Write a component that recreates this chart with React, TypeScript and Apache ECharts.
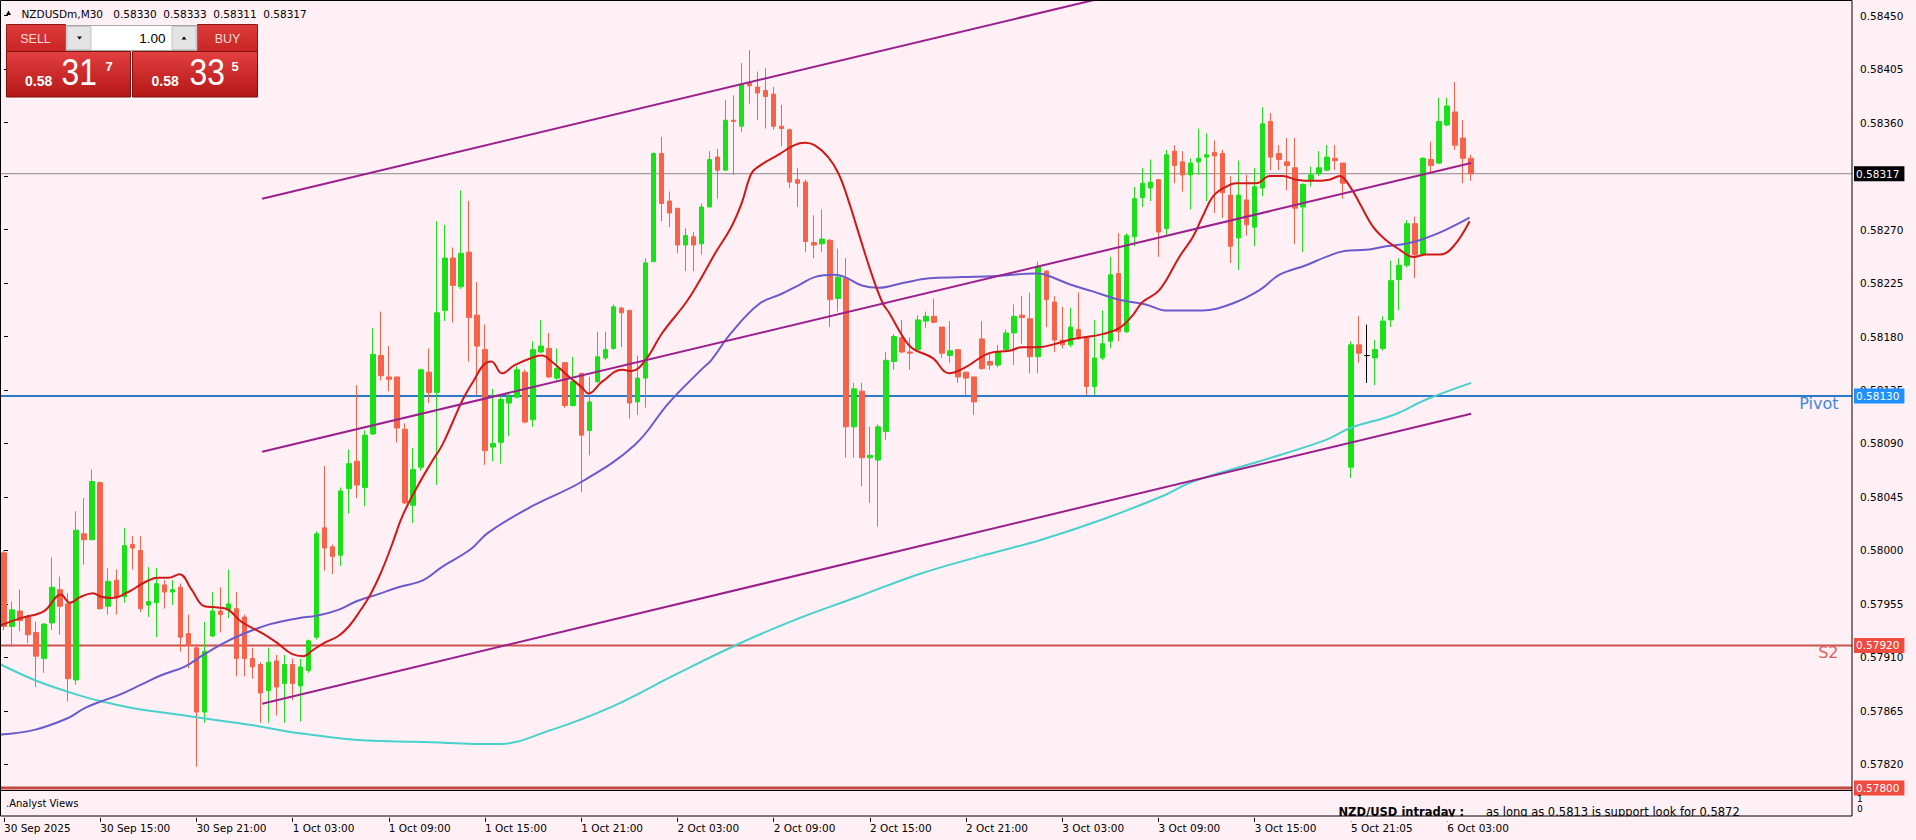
import React, { useEffect, useRef } from "react";
import * as echarts from "echarts";

const FONT = "'DejaVu Sans', sans-serif";
const PFONT = "'Liberation Sans', Arial, sans-serif";
const BG = "#fff0f5";
const BULL = "#19e019";
const BEAR = "#f5644a";
const SLOTS = 231;

const tickLabels = [
  "30 Sep 2025", "30 Sep 15:00", "30 Sep 21:00", "1 Oct 03:00", "1 Oct 09:00", "1 Oct 15:00",
  "1 Oct 21:00", "2 Oct 03:00", "2 Oct 09:00", "2 Oct 15:00", "2 Oct 21:00", "3 Oct 03:00",
  "3 Oct 09:00", "3 Oct 15:00", "5 Oct 21:05", "6 Oct 03:00",
];

const opens = [
  0.57998,0.57936,0.57949,0.57944,0.57931,0.57909,0.57939,0.57967,0.57955,0.57891,
  0.58014,0.58009,0.58057,0.57953,0.57975,0.57961,0.58005,0.58000,0.57954,0.57956,
  0.57971,0.57965,0.57969,0.57930,0.57918,0.57864,0.57928,0.57949,0.57950,0.57951,
  0.57944,0.57909,0.57904,0.57882,0.57907,0.57888,0.57904,0.57886,0.57899,0.57927,
  0.58019,0.58003,0.57996,0.58052,0.58075,0.58053,0.58098,0.58164,0.58146,0.58146,
  0.58102,0.58038,0.58070,0.58150,0.58133,0.58202,0.58246,0.58222,0.58251,0.58198,
  0.58169,0.58087,0.58091,0.58124,0.58129,0.58150,0.58110,0.58167,0.58170,0.58145,
  0.58158,0.58122,0.58149,0.58101,0.58142,0.58162,0.58170,0.58204,0.58202,0.58125,
  0.58145,0.58243,0.58334,0.58294,0.58288,0.58257,0.58264,0.58258,0.58289,0.58331,
  0.58320,0.58362,0.58357,0.58393,0.58390,0.58387,0.58384,0.58357,0.58354,0.58312,
  0.58310,0.58259,0.58258,0.58261,0.58212,0.58229,0.58104,0.58134,0.58078,0.58076,
  0.58100,0.58159,0.58179,0.58167,0.58169,0.58193,0.58197,0.58188,0.58164,0.58169,
  0.58150,0.58146,0.58178,0.58159,0.58156,0.58169,0.58183,0.58198,0.58195,0.58163,
  0.58235,0.58209,0.58177,0.58173,0.58186,0.58179,0.58138,0.58162,0.58176,0.58233,
  0.58184,0.58264,0.58297,0.58305,0.58312,0.58271,0.58336,0.58327,0.58316,0.58327,
  0.58331,0.58335,0.58334,0.58299,0.58263,0.58295,0.58272,0.58305,0.58361,0.58334,
  0.58327,0.58322,0.58289,0.58312,0.58317,0.58320,0.58330,0.58326,0.58070,0.58173,
  0.58164,0.58162,0.58170,0.58194,0.58228,0.58240,0.58275,0.58249,0.58329,0.58326,
  0.58358,0.58369,0.58347,0.58330,
];
const closes = [
  0.57936,0.57950,0.57941,0.57929,0.57911,0.57938,0.57969,0.57953,0.57892,0.58017,
  0.58009,0.58058,0.57951,0.57974,0.57960,0.58004,0.58002,0.57951,0.57957,0.57972,
  0.57965,0.57967,0.57927,0.57920,0.57864,0.57915,0.57949,0.57946,0.57955,0.57909,
  0.57909,0.57902,0.57880,0.57906,0.57885,0.57904,0.57888,0.57902,0.57924,0.58014,
  0.58002,0.57995,0.58050,0.58073,0.58055,0.58097,0.58165,0.58147,0.58144,0.58103,
  0.58040,0.58068,0.58152,0.58133,0.58200,0.58246,0.58223,0.58250,0.58196,0.58172,
  0.58084,0.58090,0.58127,0.58129,0.58152,0.58108,0.58169,0.58172,0.58146,0.58153,
  0.58122,0.58142,0.58097,0.58125,0.58163,0.58169,0.58205,0.58200,0.58124,0.58145,
  0.58242,0.58334,0.58292,0.58284,0.58257,0.58265,0.58257,0.58289,0.58329,0.58320,
  0.58362,0.58361,0.58392,0.58391,0.58385,0.58382,0.58357,0.58355,0.58310,0.58309,
  0.58260,0.58257,0.58262,0.58211,0.58230,0.58104,0.58136,0.58078,0.58080,0.58104,
  0.58160,0.58180,0.58167,0.58166,0.58194,0.58197,0.58192,0.58166,0.58168,0.58146,
  0.58145,0.58125,0.58153,0.58156,0.58167,0.58183,0.58197,0.58196,0.58163,0.58239,
  0.58211,0.58177,0.58173,0.58188,0.58180,0.58138,0.58162,0.58174,0.58232,0.58184,
  0.58265,0.58296,0.58309,0.58310,0.58268,0.58333,0.58324,0.58316,0.58326,0.58330,
  0.58333,0.58332,0.58301,0.58256,0.58299,0.58274,0.58306,0.58359,0.58331,0.58329,
  0.58324,0.58288,0.58308,0.58316,0.58322,0.58331,0.58328,0.58309,0.58173,0.58166,
  0.58164,0.58169,0.58193,0.58227,0.58240,0.58275,0.58249,0.58330,0.58324,0.58361,
  0.58374,0.58341,0.58330,0.58317,
];
const lows = [
  0.57933,0.57919,0.57932,0.57922,0.57885,0.57897,0.57933,0.57929,0.57873,0.57887,
  0.57988,0.58009,0.57950,0.57946,0.57946,0.57956,0.57984,0.57948,0.57944,0.57927,
  0.57951,0.57954,0.57915,0.57901,0.57818,0.57855,0.57927,0.57931,0.57943,0.57894,
  0.57894,0.57892,0.57855,0.57855,0.57861,0.57855,0.57874,0.57856,0.57897,0.57925,
  0.57983,0.57980,0.57987,0.58031,0.58044,0.58037,0.58097,0.58143,0.58134,0.58091,
  0.58039,0.58023,0.58067,0.58124,0.58055,0.58193,0.58192,0.58220,0.58159,0.58131,
  0.58072,0.58075,0.58073,0.58096,0.58128,0.58107,0.58104,0.58166,0.58145,0.58143,
  0.58120,0.58121,0.58049,0.58080,0.58141,0.58160,0.58169,0.58171,0.58111,0.58114,
  0.58120,0.58243,0.58277,0.58272,0.58250,0.58235,0.58235,0.58249,0.58289,0.58296,
  0.58320,0.58316,0.58352,0.58376,0.58362,0.58355,0.58354,0.58340,0.58305,0.58289,
  0.58251,0.58246,0.58251,0.58188,0.58201,0.58078,0.58078,0.58054,0.58040,0.58020,
  0.58093,0.58152,0.58166,0.58152,0.58167,0.58187,0.58191,0.58162,0.58158,0.58141,
  0.58131,0.58114,0.58152,0.58152,0.58154,0.58167,0.58156,0.58174,0.58149,0.58149,
  0.58188,0.58167,0.58170,0.58171,0.58177,0.58131,0.58131,0.58160,0.58170,0.58176,
  0.58183,0.58256,0.58289,0.58294,0.58247,0.58265,0.58309,0.58302,0.58287,0.58316,
  0.58294,0.58284,0.58280,0.58242,0.58236,0.58265,0.58256,0.58298,0.58320,0.58320,
  0.58303,0.58258,0.58251,0.58306,0.58315,0.58319,0.58320,0.58296,0.58061,0.58158,
  0.58141,0.58139,0.58168,0.58188,0.58202,0.58238,0.58229,0.58248,0.58317,0.58325,
  0.58357,0.58337,0.58309,0.58311,
];
const highs = [
  0.58000,0.57957,0.57967,0.57946,0.57940,0.57939,0.57994,0.57978,0.57964,0.58033,
  0.58044,0.58068,0.58058,0.57985,0.57984,0.58019,0.58012,0.58012,0.57986,0.57985,
  0.57975,0.57975,0.57972,0.57946,0.57921,0.57940,0.57965,0.57969,0.57984,0.57965,
  0.57946,0.57918,0.57906,0.57918,0.57912,0.57912,0.57909,0.57909,0.57925,0.58016,
  0.58071,0.58005,0.58053,0.58085,0.58139,0.58101,0.58187,0.58201,0.58172,0.58146,
  0.58107,0.58086,0.58153,0.58170,0.58277,0.58274,0.58255,0.58303,0.58294,0.58226,
  0.58190,0.58136,0.58131,0.58132,0.58155,0.58152,0.58176,0.58194,0.58183,0.58170,
  0.58158,0.58163,0.58149,0.58146,0.58184,0.58184,0.58207,0.58205,0.58202,0.58164,
  0.58246,0.58335,0.58348,0.58302,0.58288,0.58271,0.58268,0.58292,0.58336,0.58338,
  0.58379,0.58383,0.58410,0.58421,0.58403,0.58406,0.58390,0.58375,0.58355,0.58322,
  0.58312,0.58282,0.58287,0.58262,0.58254,0.58246,0.58141,0.58141,0.58104,0.58106,
  0.58167,0.58182,0.58194,0.58179,0.58198,0.58201,0.58212,0.58188,0.58193,0.58169,
  0.58150,0.58146,0.58193,0.58166,0.58173,0.58186,0.58207,0.58214,0.58217,0.58243,
  0.58236,0.58214,0.58205,0.58204,0.58217,0.58179,0.58194,0.58202,0.58247,0.58267,
  0.58267,0.58306,0.58322,0.58329,0.58312,0.58337,0.58341,0.58336,0.58330,0.58355,
  0.58351,0.58345,0.58337,0.58315,0.58328,0.58316,0.58322,0.58373,0.58368,0.58341,
  0.58347,0.58347,0.58309,0.58323,0.58336,0.58341,0.58341,0.58326,0.58176,0.58197,
  0.58190,0.58177,0.58197,0.58244,0.58246,0.58278,0.58281,0.58331,0.58344,0.58381,
  0.58381,0.58394,0.58362,0.58333,
];
const dojiIndex = 170;

const redMA = [
  [-0.4,0.57937],[2.1,0.57943],[5.0,0.57949],[7.1,0.57963],[8.2,0.57956],[9.6,0.57961],[11.1,0.57964],
  [12.1,0.57961],[13.4,0.57960],[15.5,0.57965],[17.5,0.57973],[19.2,0.57977],[20.5,0.57977],[21.9,0.57980],
  [23.4,0.57967],[25.0,0.57953],[26.7,0.57952],[28.0,0.57950],[29.6,0.57940],[32.3,0.57930],[34.1,0.57922],
  [35.9,0.57913],[37.4,0.57911],[38.5,0.57916],[39.9,0.57922],[41.7,0.57928],[43.0,0.57936],[44.3,0.57948],
  [45.7,0.57963],[47.0,0.57981],[48.4,0.58005],[49.7,0.58029],[51.5,0.58053],[53.3,0.58074],[54.6,0.58088],
  [55.9,0.58107],[57.3,0.58128],[58.6,0.58143],[59.8,0.58156],[60.8,0.58159],[62.1,0.58149],[63.7,0.58156],
  [66.2,0.58163],[67.1,0.58164],[68.3,0.58159],[70.5,0.58146],[72.1,0.58137],[72.9,0.58132],[74.6,0.58142],
  [77.1,0.58152],[78.3,0.58151],[80.0,0.58160],[82.1,0.58183],[85.0,0.58208],[86.6,0.58225],[88.7,0.58250],
  [90.7,0.58272],[92.0,0.58292],[93.2,0.58317],[94.1,0.58323],[96.6,0.58333],[98.6,0.58341],[99.9,0.58343],
  [101.1,0.58341],[102.8,0.58331],[104.1,0.58317],[105.3,0.58295],[106.6,0.58267],[108.2,0.58233],[109.6,0.58208],
  [110.4,0.58200],[112.1,0.58180],[113.3,0.58170],[115.8,0.58162],[117.9,0.58149],[119.9,0.58154],[122.9,0.58166],
  [125.4,0.58168],[127.0,0.58171],[129.1,0.58171],[131.2,0.58174],[133.3,0.58178],[135.4,0.58180],[137.0,0.58182],
  [139.1,0.58187],[140.8,0.58198],[142.0,0.58209],[144.1,0.58219],[146.6,0.58247],[148.3,0.58264],[149.5,0.58281],
  [150.8,0.58298],[152.4,0.58306],[153.7,0.58309],[154.9,0.58309],[156.2,0.58309],[157.9,0.58315],[159.5,0.58315],
  [161.2,0.58312],[163.3,0.58311],[165.3,0.58312],[166.6,0.58315],[167.9,0.58306],[169.1,0.58292],[170.8,0.58272],
  [172.4,0.58261],[174.1,0.58253],[175.8,0.58247],[177.4,0.58249],[179.1,0.58249],[180.8,0.58256],[182.8,0.58277],
];
const slateMA = [
  [-0.4,0.57845],[3.8,0.57849],[8.0,0.57859],[10.0,0.57867],[12.1,0.57873],[14.2,0.57878],[17.1,0.57887],
  [19.6,0.57895],[22.5,0.57902],[24.6,0.57911],[27.1,0.57921],[29.6,0.57929],[33.2,0.57938],[36.7,0.57943],
  [39.0,0.57945],[41.7,0.57950],[43.9,0.57957],[46.6,0.57963],[49.2,0.57969],[52.3,0.57975],[54.6,0.57986],
  [58.2,0.58001],[60.4,0.58015],[65.8,0.58037],[72.1,0.58058],[78.7,0.58089],[82.9,0.58124],[87.1,0.58153],
  [88.2,0.58160],[90.7,0.58183],[94.1,0.58207],[97.0,0.58216],[99.1,0.58223],[101.1,0.58230],[103.6,0.58232],
  [104.9,0.58230],[107.0,0.58223],[109.1,0.58221],[112.1,0.58225],[115.4,0.58229],[119.5,0.58230],[123.7,0.58231],
  [128.7,0.58233],[129.9,0.58232],[132.9,0.58224],[135.8,0.58218],[139.1,0.58211],[142.4,0.58207],[144.9,0.58202],
  [149.5,0.58202],[153.3,0.58208],[156.6,0.58219],[159.1,0.58232],[162.4,0.58240],[164.9,0.58247],[167.2,0.58252],
  [169.9,0.58253],[172.4,0.58256],[174.9,0.58258],[177.4,0.58263],[179.9,0.58270],[182.8,0.58280],
];
const turquoiseMA = [
  [-0.4,0.57904],[3.8,0.57891],[8.0,0.57881],[12.1,0.57873],[16.3,0.57867],[20.5,0.57863],[24.6,0.57859],
  [30.9,0.57853],[37.1,0.57846],[45.2,0.57840],[51.5,0.57839],[61.5,0.57837],[68.3,0.57849],[76.0,0.57869],
  [83.6,0.57895],[91.2,0.57920],[98.8,0.57942],[106.5,0.57961],[114.1,0.57980],[121.7,0.57995],[129.4,0.58009],
  [137.0,0.58026],[144.6,0.58046],[148.3,0.58058],[156.6,0.58075],[164.9,0.58093],[167.9,0.58103],[173.3,0.58114],
  [177.4,0.58127],[183.0,0.58141],
];
const upperChannel = [[32.2, 0.58296], [183.0, 0.58539]];
const middleChannel = [[32.2, 0.58083], [183.0, 0.58326]];
const lowerChannel = [[32.2, 0.57871], [183.0, 0.58115]];

const currentPrice = 0.58317;
const pivotLevel = 0.5813;
const s2Level = 0.5792;
const lowLevel = 0.578;
const headerQuote = [0.5833, 0.58333, 0.58311, 0.58317];
const sellParts = ["0.58", "31", "7"];
const buyParts = ["0.58", "33", "5"];
const lotSize = "1.00";

const MONTHS = ["Jan","Feb","Mar","Apr","May","Jun","Jul","Aug","Sep","Oct","Nov","Dec"];
const pad = (n: number) => (n < 10 ? "0" + n : "" + n);
function barTime(i: number): string {
  let t: number;
  if (i < 168) t = Date.UTC(2025, 8, 30, 9, 0) + i * 1800000;
  else if (i === 168) t = Date.UTC(2025, 9, 5, 21, 5);
  else t = Date.UTC(2025, 9, 5, 21, 0) + (i - 168) * 1800000;
  const d = new Date(t);
  return `${d.getUTCDate()} ${MONTHS[d.getUTCMonth()]} ${pad(d.getUTCHours())}:${pad(d.getUTCMinutes())}`;
}
const categories = Array.from({ length: SLOTS }, (_, i) => (i < opens.length ? barTime(i) : ""));
const showTick = (idx: number) => idx % 12 === 0 && idx / 12 < tickLabels.length;

function txt(x: number, y: number, text: string, o: any = {}) {
  return {
    type: "text",
    x,
    y,
    z: 60,
    silent: true,
    scaleX: o.scaleX ?? 1,
    style: {
      text,
      fill: o.fill ?? "#000",
      fontSize: o.size ?? 10.5,
      fontFamily: o.family ?? FONT,
      fontWeight: o.weight ?? "normal",
      align: o.align ?? "left",
      verticalAlign: o.va ?? "middle",
    },
  };
}

function buildGraphic(yPivot: number, yS2: number) {
  const g: any[] = [];
  const redGrad = () =>
    new echarts.graphic.LinearGradient(0, 0, 0, 1, [
      { offset: 0, color: "#e34040" },
      { offset: 1, color: "#b41616" },
    ]);
  const btnGrad = () =>
    new echarts.graphic.LinearGradient(0, 0, 0, 1, [
      { offset: 0, color: "#de3a3a" },
      { offset: 1, color: "#c82626" },
    ]);
  g.push({ type: "polygon", z: 60, shape: { points: [[6, 15], [8.5, 10.5], [11, 15]] }, style: { fill: "#000" } });
  g.push(txt(21.5, 13.5, "NZDUSDm,M30"));
  headerQuote.forEach((q, i) => g.push(txt(113.3 + i * 50, 13.5, q.toFixed(5))));
  g.push({ type: "rect", z: 55, shape: { x: 6.5, y: 24.5, width: 59, height: 27 }, style: { fill: btnGrad(), stroke: "#8e1a1a", lineWidth: 1 } });
  g.push({ type: "rect", z: 55, shape: { x: 197.5, y: 24.5, width: 60, height: 27 }, style: { fill: btnGrad(), stroke: "#8e1a1a", lineWidth: 1 } });
  g.push({ type: "rect", z: 55, shape: { x: 66, y: 25.5, width: 131, height: 25 }, style: { fill: "#ffffff", stroke: "#a8a8a8", lineWidth: 1 } });
  g.push({ type: "rect", z: 56, shape: { x: 67, y: 26.5, width: 24, height: 23 }, style: { fill: "#e4e4e4", stroke: "#c4c4c4", lineWidth: 1 } });
  g.push({ type: "rect", z: 56, shape: { x: 172, y: 26.5, width: 24, height: 23 }, style: { fill: "#e4e4e4", stroke: "#c4c4c4", lineWidth: 1 } });
  g.push({ type: "polygon", z: 57, shape: { points: [[77, 36.5], [82, 36.5], [79.5, 39.5]] }, style: { fill: "#000" } });
  g.push({ type: "polygon", z: 57, shape: { points: [[181.5, 39.5], [186.5, 39.5], [184, 36.5]] }, style: { fill: "#000" } });
  g.push({ type: "rect", z: 55, shape: { x: 6.5, y: 51.5, width: 124, height: 45.5 }, style: { fill: redGrad(), stroke: "#7e1010", lineWidth: 1 } });
  g.push({ type: "rect", z: 55, shape: { x: 132.5, y: 51.5, width: 125, height: 45.5 }, style: { fill: redGrad(), stroke: "#7e1010", lineWidth: 1 } });
  g.push(txt(35.5, 38.5, "SELL", { family: PFONT, size: 12.5, fill: "#ffdada", align: "center" }));
  g.push(txt(227.5, 38.5, "BUY", { family: PFONT, size: 12.5, fill: "#ffdada", align: "center" }));
  g.push(txt(165.5, 38.5, lotSize, { family: PFONT, size: 13.5, align: "right" }));
  const priceTexts = (parts: string[], x0: number, x1: number, x2: number) => {
    g.push(txt(x0, 87.5, parts[0], { family: PFONT, size: 14, weight: "bold", fill: "#fff", va: "bottom" }));
    g.push(txt(x1, 91, parts[1], { family: PFONT, size: 37, fill: "#fff", va: "bottom", scaleX: 0.86 }));
    g.push(txt(x2, 60, parts[2], { family: PFONT, size: 13, weight: "bold", fill: "#fff", va: "top" }));
  };
  priceTexts(sellParts, 25, 61.5, 105.5);
  priceTexts(buyParts, 151.5, 189.5, 231.5);
  g.push(txt(1838.5, yPivot + 7.5, "Pivot", { size: 16, fill: "#3d8ad6", align: "right" }));
  g.push(txt(1838.5, yS2 + 7.5, "S2", { size: 16, fill: "#e0605a", align: "right" }));
  g.push(txt(6, 803, ".Analyst Views", { size: 10 }));
  g.push(txt(1857, 799, "1", { size: 9 }));
  g.push(txt(1857, 809, "0", { size: 9 }));
  g.push(txt(1338.5, 817.5, "NZD/USD intraday :", { size: 11.5, weight: "bold", va: "bottom" }));
  g.push(txt(1486, 817.5, "as long as 0.5813 is support look for 0.5872", { size: 11.5, va: "bottom" }));
  g.push({ type: "rect", z: 61, silent: true, shape: { x: 1330, y: 816.5, width: 16.5, height: 5 }, style: { fill: BG } });
  g.push({ type: "rect", z: 61, silent: true, shape: { x: 1349.5, y: 816.5, width: 430, height: 5 }, style: { fill: BG } });
  g.push({ type: "rect", z: 62, silent: true, shape: { x: 0.5, y: 0.5, width: 1851.5, height: 815.5 }, style: { fill: "none", stroke: "#000", lineWidth: 1 } });
  g.push({ type: "line", z: 62, silent: true, shape: { x1: 0, y1: 790.5, x2: 1852, y2: 790.5 }, style: { stroke: "#000", lineWidth: 1 } });
  return g;
}

export default function App() {
  const ref = useRef<HTMLDivElement>(null);
  useEffect(() => {
    document.body.style.margin = "0";
    document.body.style.background = BG;
    if (!ref.current) return;
    const chart = echarts.init(ref.current, null, { renderer: "svg" });
    const candleData = opens.map((o, i) => {
      const v = [o, closes[i], lows[i], highs[i]];
      if (i === dojiIndex)
        return { value: v, itemStyle: { color: "#000", color0: "#000", borderColor: "#000", borderColor0: "#000" } };
      return v;
    });
    const lineSeries = (data: number[][], color: string, width: number, smooth: any, z = 4) => ({
      type: "line",
      xAxisIndex: 1,
      yAxisIndex: 0,
      data,
      showSymbol: false,
      symbol: "none",
      smooth,
      silent: true,
      z,
      lineStyle: { color, width },
    });
    const levelSeries = (price: number, color: string, width: number, box: string) => ({
      type: "line",
      xAxisIndex: 1,
      yAxisIndex: 0,
      data: [[-0.5, price], [SLOTS - 0.5, price]],
      showSymbol: false,
      symbol: "none",
      silent: true,
      z: 1,
      lineStyle: { color, width },
      endLabel: {
        show: true,
        formatter: () => price.toFixed(5),
        distance: 2,
        backgroundColor: box,
        color: "#ffffff",
        padding: [1, 5, 2, 2],
        fontSize: 10.5,
        fontFamily: FONT,
        lineHeight: 12,
      },
    });
    const option: any = {
      animation: false,
      backgroundColor: BG,
      grid: { left: 0, right: 64, top: 0, bottom: 22.2, containLabel: false },
      xAxis: [
        {
          type: "category",
          data: categories,
          boundaryGap: true,
          axisLine: { show: false },
          axisTick: { show: true, alignWithLabel: true, length: 4, interval: showTick, lineStyle: { color: "#000" } },
          axisLabel: {
            interval: showTick,
            align: "left",
            margin: 5,
            color: "#000",
            fontFamily: FONT,
            fontSize: 10.5,
            formatter: (_v: any, idx: number) => (idx % 12 === 0 ? tickLabels[idx / 12] ?? "" : ""),
          },
          splitLine: { show: false },
        },
        { type: "value", min: -0.5, max: SLOTS - 0.5, show: false },
      ],
      yAxis: {
        type: "value",
        position: "right",
        min: 0.57775,
        max: 0.584632,
        interval: 0.00045,
        axisLine: { show: false },
        axisTick: { show: true, length: 4, lineStyle: { color: "#000" } },
        axisLabel: {
          margin: 8,
          color: "#000",
          fontFamily: FONT,
          fontSize: 10.5,
          showMinLabel: false,
          showMaxLabel: false,
          formatter: (v: number) => v.toFixed(5),
        },
        splitLine: { show: false },
      },
      series: [
        levelSeries(lowLevel, "#c24a44", 3, "#ef4b3f"),
        levelSeries(s2Level, "#cc524c", 2, "#ef4b3f"),
        levelSeries(pivotLevel, "#2f78c6", 2, "#1e90ff"),
        levelSeries(currentPrice, "#8a8a8a", 1, "#000000"),
        {
          type: "candlestick",
          data: candleData,
          barWidth: 5,
          z: 2,
          itemStyle: { color: BULL, color0: BEAR, borderColor: BULL, borderColor0: BEAR, borderWidth: 1 },
        },
        lineSeries(turquoiseMA, "#48d1cc", 2, 0.4),
        lineSeries(slateMA, "#6a5acd", 2, 0.4),
        lineSeries(redMA, "#d01818", 2, 0.4),
        lineSeries(upperChannel, "#9c1f8e", 2, false, 5),
        lineSeries(middleChannel, "#9c1f8e", 2, false, 5),
        lineSeries(lowerChannel, "#9c1f8e", 2, false, 5),
      ],
    };
    chart.setOption(option);
    const yPivot = chart.convertToPixel({ yAxisIndex: 0 }, pivotLevel) as number;
    const yS2 = chart.convertToPixel({ yAxisIndex: 0 }, s2Level) as number;
    chart.setOption({ graphic: buildGraphic(yPivot, yS2) });
    return () => chart.dispose();
  }, []);
  return <div ref={ref} style={{ width: 1916, height: 840 }} />;
}
